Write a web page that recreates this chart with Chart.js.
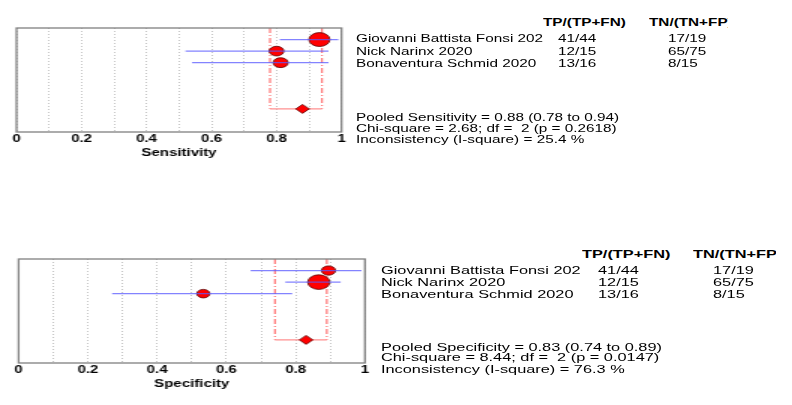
<!DOCTYPE html>
<html>
<head>
<meta charset="utf-8">
<script src="https://cdn.jsdelivr.net/npm/chart.js@4.4.0/dist/chart.umd.min.js"></script>
<style>
  body { margin: 0; width: 792px; height: 405px; background: #fff; position: relative; overflow: hidden;
         font-family: "Liberation Sans", Arial, sans-serif; }
  .wrap { position: absolute; transform-origin: 0 0; transform: scaleX(1.5); }
  .t { position: absolute; white-space: pre; font-size: 11.5px; line-height: 12px; color: #000;
       transform-origin: 0 50%; }
  .b { font-weight: bold; }
  .clip { position: absolute; overflow: hidden; height: 14px; }
</style>
</head>
<body>
<div class="wrap" style="left:0;top:0"><canvas id="sens"></canvas></div>
<div class="wrap" style="left:0;top:230px"><canvas id="spec"></canvas></div>
<script>
// studies and counts
const studies = ['Giovanni Battista Fonsi 202', 'Nick Narinx 2020', 'Bonaventura Schmid 2020'];
const tp = [41, 12, 13];
const tpfn = [44, 15, 16];
const tn = [17, 65, 8];
const tnfp = [19, 75, 15];

// 95% CI
const sensLow = [0.81, 0.52, 0.54];
const sensHigh = [0.99, 0.96, 0.96];
const specLow = [0.67, 0.77, 0.27];
const specHigh = [0.99, 0.93, 0.79];

// pooled estimate, lower, upper
const pooledSens = [0.88, 0.78, 0.94];
const pooledSpec = [0.83, 0.74, 0.89];

const sensStats = ['Pooled Sensitivity = 0.88 (0.78 to 0.94)', 'Chi-square = 2.68; df =  2 (p = 0.2618)', 'Inconsistency (I-square) = 25.4 %'];
const specStats = ['Pooled Specificity = 0.83 (0.74 to 0.89)', 'Chi-square = 8.44; df =  2 (p = 0.0147)', 'Inconsistency (I-square) = 76.3 %'];

const tickLabels = ['0', '0.2', '0.4', '0.6', '0.8', '1'];
const FONT = '"Liberation Sans", Arial, sans-serif';

const frame = {
  id: 'frame',
  afterDraw(chart) {
    const a = chart.chartArea, ctx = chart.ctx;
    ctx.save();
    ctx.strokeStyle = '#808080';
    ctx.lineWidth = 1.3;
    ctx.strokeRect(a.left, a.top, a.right - a.left, a.bottom - a.top);
    ctx.restore();
  }
};

function forest(id, w, h, pad, est, lo, hi, n, pooled, title) {
  const cv = document.getElementById(id);
  cv.width = w; cv.height = h;
  const total = n.reduce((a, b) => a + b, 0);
  const poolRow = 7;
  const ds = [];
  est.forEach((e, i) => ds.push({
    data: [{x: lo[i], y: i + 1}, {x: hi[i], y: i + 1}],
    showLine: true, borderColor: 'rgba(90,90,255,0.75)', borderWidth: 1.2, pointRadius: 0
  }));
  ds.push({
    data: est.map((e, i) => ({x: e, y: i + 1})),
    pointStyle: 'circle', pointRadius: n.map(v => 8.3 * Math.cbrt(v / total)),
    backgroundColor: '#ff0000', borderColor: '#5a0000', borderWidth: 0.8
  });
  ds.push({
    data: [{x: pooled[0], y: poolRow}],
    pointStyle: 'rectRot', pointRadius: 4.5,
    backgroundColor: '#ff0000', borderColor: '#5a0000', borderWidth: 0.8
  });
  ds.push({
    data: [{x: pooled[1], y: poolRow}, {x: pooled[2], y: poolRow}],
    showLine: true, borderColor: '#ff9090', borderWidth: 1.2, pointRadius: 0
  });
  [pooled[1], pooled[2]].forEach(v => ds.push({
    data: [{x: v, y: 0}, {x: v, y: poolRow}],
    showLine: true, borderColor: '#ff3030', borderWidth: 0.8, borderDash: [5, 2, 1, 2], pointRadius: 0
  }));

  new Chart(cv, {
    type: 'scatter',
    data: {datasets: ds},
    options: {
      responsive: false, animation: false, events: [],
      layout: {padding: pad},
      plugins: {legend: {display: false}, tooltip: {enabled: false}},
      scales: {
        x: {
          type: 'linear', min: 0, max: 1,
          ticks: {
            stepSize: 0.1, autoSkip: false, maxRotation: 0, padding: 1, color: '#000',
            font: {family: FONT, size: 10, weight: 'bold'},
            callback: v => { const k = Math.round(v * 10); return k % 2 === 0 ? tickLabels[k / 2] : ''; }
          },
          grid: {color: '#c4c4c4', lineWidth: 1, drawTicks: false},
          border: {display: false, dash: [1, 2]},
          title: {display: true, text: title, color: '#000', padding: {top: 1, bottom: 0},
                  font: {family: FONT, size: 10, weight: 'bold'}}
        },
        y: {min: 0, max: 9, reverse: true, display: false}
      }
    },
    plugins: [frame]
  });
}

function put(text, x, cy, sx, bold, parent) {
  const d = document.createElement('div');
  d.className = 't' + (bold ? ' b' : '');
  d.textContent = text;
  d.style.left = x + 'px';
  d.style.top = (cy - 6.5) + 'px';
  d.style.transform = 'scaleX(' + sx + ')';
  (parent || document.body).appendChild(d);
  return d;
}

function table(sx, hy, tpX, tnX, tnClip, nameX, rowY, c1X, c2X, statY, stats) {
  put('TP/(TP+FN)', tpX, hy, sx, true);
  const clip = document.createElement('div');
  clip.className = 'clip';
  clip.style.left = tnX + 'px';
  clip.style.top = (hy - 7) + 'px';
  clip.style.width = (tnClip - tnX) + 'px';
  document.body.appendChild(clip);
  put('TN/(TN+FP)', 0, 7, sx, true, clip);
  studies.forEach((s, i) => {
    put(s, nameX, rowY[i], sx);
    put(tp[i] + '/' + tpfn[i], c1X, rowY[i], sx);
    put(tn[i] + '/' + tnfp[i], c2X, rowY[i], sx);
  });
  stats.forEach((s, i) => put(s, nameX, statY[i], sx));
}

forest('sens', 260, 165, {left: 11, right: 32.3, top: 28, bottom: 6},
       tp.map((v, i) => v / tpfn[i]), sensLow, sensHigh, tpfn, pooledSens, 'Sensitivity');
forest('spec', 280, 165, {left: 12.4, right: 36.7, top: 29, bottom: 5},
       tn.map((v, i) => v / tnfp[i]), specLow, specHigh, tnfp, pooledSpec, 'Specificity');

table(1.33, 22.7, 543, 649, 727.5, 356, [38.3, 51.7, 63.3], 558, 668, [117.3, 128.3, 139], sensStats);
table(1.42, 254, 581.7, 693, 776, 380.7, [270.7, 282.3, 294], 597.5, 712.5, [347.3, 357.7, 369], specStats);
</script>
</body>
</html>
